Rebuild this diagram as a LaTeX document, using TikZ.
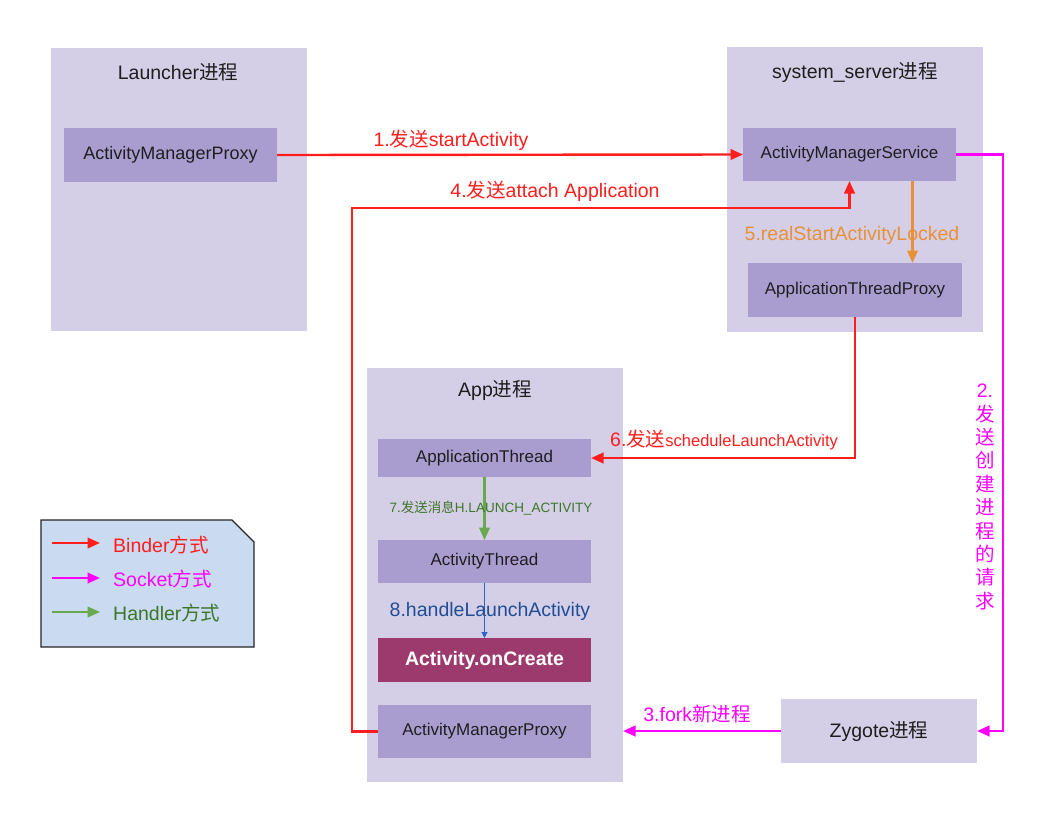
\documentclass[tikz,border=0pt]{standalone}
\usepackage{fontspec}
\setmainfont{Liberation Sans}
\newfontfamily\cjk{Noto Sans CJK SC}
\usetikzlibrary{arrows.meta}

\definecolor{procfill}{RGB}{213,206,231}
\definecolor{innerfill}{RGB}{169,157,208}
\definecolor{createfill}{RGB}{157,58,109}
\definecolor{binder}{RGB}{255,30,30}
\definecolor{socket}{RGB}{255,0,255}
\definecolor{handler}{RGB}{106,168,79}
\definecolor{handlertext}{RGB}{60,118,40}
\definecolor{locked}{RGB}{232,145,56}
\definecolor{handleblue}{RGB}{50,100,200}
\definecolor{handlebluetext}{RGB}{31,78,150}
\definecolor{legendfill}{RGB}{201,218,241}
\definecolor{boxtext}{RGB}{30,30,30}

\tikzset{
  proc/.style={fill=procfill, inner sep=0pt, outer sep=0pt},
  innerbox/.style={fill=innerfill, inner sep=0pt, outer sep=0pt, text=boxtext,
    font=\fontsize{17}{20}\selectfont},
  createbox/.style={fill=createfill, inner sep=0pt, outer sep=0pt, text=white,
    font=\fontsize{19.5}{22}\selectfont\bfseries},
  ptitle/.style={inner sep=0pt, text=boxtext, font=\fontsize{19.5}{22}\selectfont},
  lbl/.style={inner sep=0pt, font=\fontsize{19.5}{22}\selectfont},
  tip/.style={-{Triangle[length=12.5pt,width=10.5pt]}},
  binderarrow/.style={tip, draw=binder, line width=2.4pt},
  socketarrow/.style={tip, draw=socket, line width=2.4pt},
  handlerarrow/.style={tip, draw=handler, line width=2.2pt},
  lockedarrow/.style={tip, draw=locked, line width=2.4pt},
  bluearrow/.style={-{Triangle[length=6pt,width=6pt]}, draw=handleblue, line width=1.1pt},
}

\begin{document}
\begin{tikzpicture}[x=1pt, y=-1pt]
  \useasboundingbox[fill=white] (0,0) rectangle (1051,812);

  % process containers
  \node[proc, minimum width=256, minimum height=283] (launcher) at (179,189.5) {};
  \node[proc, minimum width=256, minimum height=285] (sysserver) at (855,189.5) {};
  \node[proc, minimum width=256, minimum height=414] (app) at (495,575) {};
  \node[proc, minimum width=196, minimum height=64, text=boxtext,
        font=\fontsize{19.5}{22}\selectfont] (zygote) at (879,731) {Zygote{\cjk 进程}};

  % container titles
  \node[ptitle] (ltitle) at (178,72) {Launcher{\cjk 进程}};
  \node[ptitle] (stitle) at (855,72) {system\_server{\cjk 进程}};
  \node[ptitle] (atitle) at (495,390) {App{\cjk 进程}};

  % inner components
  \node[innerbox, minimum width=213, minimum height=54, font=\fontsize{18}{21}\selectfont]
    (lamp) at (170.5,155) {ActivityManagerProxy};
  \node[innerbox, minimum width=213, minimum height=53] (ams) at (849.5,154.5) {ActivityManagerService};
  \node[innerbox, minimum width=214, minimum height=54] (atp) at (855,290) {ApplicationThreadProxy};
  \node[innerbox, minimum width=213, minimum height=38] (appthread) at (484.5,458) {ApplicationThread};
  \node[innerbox, minimum width=213, minimum height=43] (actthread) at (484.5,561.5) {ActivityThread};
  \node[createbox, minimum width=213, minimum height=44] (oncreate) at (484.5,660) {Activity.onCreate};
  \node[innerbox, minimum width=213, minimum height=53] (aamp) at (484.5,731.5) {ActivityManagerProxy};

  % 1. startActivity
  \draw[binderarrow] (lamp.east) -- (ams.west);
  \node[lbl, text=binder] (l1) at (451,140) {1.{\cjk 发送}startActivity};

  % 2. request for a new process
  \draw[socketarrow] (ams.east) -- ++(47,0) |- (zygote.east);
  \node[lbl, text=socket, align=center, font=\fontsize{19.5}{23.4}\selectfont] (l2) at (985,497)
    {2.\\{\cjk 发}\\{\cjk 送}\\{\cjk 创}\\{\cjk 建}\\{\cjk 进}\\{\cjk 程}\\{\cjk 的}\\{\cjk 请}\\{\cjk 求}};

  % 3. fork
  \draw[socketarrow] (zygote.west) -- (zygote.west -| app.east);
  \node[lbl, text=socket] (l3) at (697,714) {3.fork{\cjk 新进程}};

  % 4. attach Application
  \coordinate (c4) at (352,208);
  \draw[binderarrow] (aamp.west) -| (c4) -| (ams.south);
  \node[lbl, text=binder] (l4) at (555,191) {4.{\cjk 发送}attach Application};

  % 5. realStartActivityLocked
  \draw[lockedarrow] ([xshift=63pt]ams.south) -- ([xshift=63pt]ams.south |- atp.north);
  \node[lbl, text=locked] (l5) at (852,235) {5.realStartActivityLocked};

  % 6. scheduleLaunchActivity
  \draw[binderarrow] (atp.south) |- (appthread.east);
  \node[lbl, text=binder, anchor=west] (l6) at (610,440)
    {6.{\cjk 发送}{\fontsize{16.5}{20}\selectfont scheduleLaunchActivity}};

  % 7. message to H
  \draw[handlerarrow] (appthread.south) -- (actthread.north);
  \node[inner sep=0pt, text=handlertext, font=\fontsize{13.5}{16}\selectfont] (l7) at (491,508)
    {7.{\cjk 发送消息}H.LAUNCH\_ACTIVITY};

  % 8. handleLaunchActivity
  \draw[bluearrow] (actthread.south) -- (oncreate.north);
  \node[lbl, text=handlebluetext] (l8) at (490,611) {8.handleLaunchActivity};

  % legend
  \draw[fill=legendfill, draw=black!85, line width=1.3pt]
    (41,520) -- (232,520) -- (254,542) -- (254,647) -- (41,647) -- cycle;
  \coordinate (kb0) at (52,543);  \coordinate (kb1) at (100,543);
  \coordinate (ks0) at (52,578);  \coordinate (ks1) at (100,578);
  \coordinate (kh0) at (52,612);  \coordinate (kh1) at (100,612);
  \draw[binderarrow] (kb0) -- (kb1);
  \draw[socketarrow] (ks0) -- (ks1);
  \draw[handlerarrow] (kh0) -- (kh1);
  \node[lbl, text=binder, anchor=west] (kbt) at (113,545) {Binder{\cjk 方式}};
  \node[lbl, text=socket, anchor=west] (kst) at (113,579) {Socket{\cjk 方式}};
  \node[lbl, text=handlertext, anchor=west] (kht) at (113,613) {Handler{\cjk 方式}};
\end{tikzpicture}
\end{document}
